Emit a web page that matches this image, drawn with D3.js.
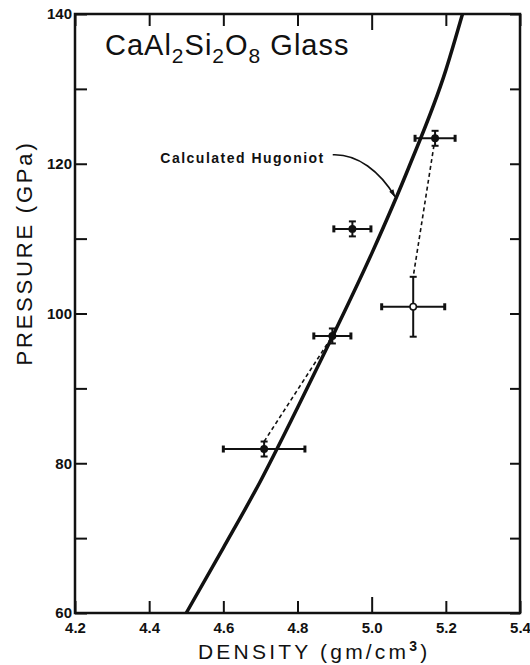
<!DOCTYPE html>
<html>
<head>
<meta charset="utf-8">
<script src="https://cdn.jsdelivr.net/npm/d3@7"></script>
<style>
  body { margin: 0; background: #fff; }
  svg { display: block; }
</style>
</head>
<body>
<div id="chart"></div>
<script>
// calculated Hugoniot (density g/cm3, pressure GPa)
var hugDensity = [4.50, 4.60, 4.70, 4.80, 4.90, 5.00, 5.10, 5.20, 5.245];
var hugPressure = [60, 68.7, 77.6, 87.4, 97.5, 108, 119.5, 132.5, 140];

// experimental points with error bars
var expDensity = [4.71, 4.894, 4.948, 5.112, 5.171];
var expPressure = [81.9, 97.0, 111.3, 100.9, 123.4];
var expDensityErr = [0.11, 0.05, 0.05, 0.085, 0.054];
var expPressureErr = [1, 1, 1, 4, 1];

// dashed connections
var dashLow = [[4.71, 82.9], [4.894, 97.0]];
var dashHigh = [[5.171, 123.4], [5.112, 104.9]];

var xTicks = [4.2, 4.4, 4.6, 4.8, 5.0, 5.2, 5.4];
var yTicks = [60, 70, 80, 90, 100, 110, 120, 130, 140];
var yLabels = [60, 80, 100, 120, 140];

(function () {
  var width = 530, height = 665;
  var margin = { left: 75, right: 520, top: 14, bottom: 613 };
  var font = '"Liberation Sans", Arial, sans-serif';

  var x = d3.scaleLinear().domain([4.2, 5.4]).range([margin.left, margin.right]);
  var y = d3.scaleLinear().domain([60, 140]).range([margin.bottom, margin.top]);

  var svg = d3.select('#chart').append('svg')
    .attr('width', width)
    .attr('height', height);

  svg.append('defs').append('marker')
    .attr('id', 'arrow')
    .attr('viewBox', '0 0 10 10')
    .attr('refX', 9).attr('refY', 5)
    .attr('markerWidth', 9).attr('markerHeight', 5)
    .attr('orient', 'auto')
    .append('path')
    .attr('d', 'M0,2 L10,5 L0,8 Z')
    .attr('fill', '#111');

  // axes, ticks pointing inward
  var xb = svg.append('g')
    .attr('transform', 'translate(0,' + margin.bottom + ')')
    .call(d3.axisBottom(x).tickValues(xTicks).tickSize(-12).tickSizeOuter(0)
      .tickPadding(9).tickFormat(d3.format('.1f')));
  var xt = svg.append('g')
    .attr('transform', 'translate(0,' + margin.top + ')')
    .call(d3.axisTop(x).tickValues(xTicks).tickSize(-12).tickSizeOuter(0)
      .tickFormat(''));
  svg.append('g')
    .attr('transform', 'translate(' + margin.left + ',0)')
    .call(d3.axisLeft(y).tickValues(yTicks).tickSize(-12).tickSizeOuter(0)
      .tickPadding(3)
      .tickFormat(function (d) { return yLabels.indexOf(d) >= 0 ? d : ''; }));
  svg.append('g')
    .attr('transform', 'translate(' + margin.right + ',0)')
    .call(d3.axisRight(y).tickValues(yTicks).tickSize(-10).tickSizeOuter(0)
      .tickFormat(''));

  svg.selectAll('.domain').remove();
  svg.selectAll('.tick line').attr('stroke', '#111').attr('stroke-width', 2);
  svg.selectAll('.tick text')
    .attr('font-family', font)
    .attr('font-weight', 'bold')
    .attr('font-size', 15)
    .attr('fill', '#111');
  // 5.0 ticks are drawn longer
  xb.selectAll('.tick line').filter(function (d) { return d === 5.0; }).attr('y2', -16);
  xt.selectAll('.tick line').filter(function (d) { return d === 5.0; }).attr('y2', 16);

  svg.append('rect')
    .attr('x', margin.left).attr('y', margin.top)
    .attr('width', margin.right - margin.left).attr('height', margin.bottom - margin.top)
    .attr('fill', 'none')
    .attr('stroke', '#111')
    .attr('stroke-width', 2.5);

  // Hugoniot curve
  var hug = hugDensity.map(function (d, i) { return [d, hugPressure[i]]; });
  svg.append('path')
    .datum(hug)
    .attr('fill', 'none')
    .attr('stroke', '#111')
    .attr('stroke-width', 3.5)
    .attr('d', d3.line()
      .x(function (d) { return x(d[0]); })
      .y(function (d) { return y(d[1]); })
      .curve(d3.curveMonotoneX));

  // dashed connections
  [dashLow, dashHigh].forEach(function (seg) {
    svg.append('line')
      .attr('x1', x(seg[0][0])).attr('y1', y(seg[0][1]))
      .attr('x2', x(seg[1][0])).attr('y2', y(seg[1][1]))
      .attr('stroke', '#111')
      .attr('stroke-width', 1.6)
      .attr('stroke-dasharray', '4,3');
  });

  // error bars
  var pts = expDensity.map(function (d, i) {
    return { d: d, p: expPressure[i], de: expDensityErr[i], pe: expPressureErr[i], open: i === 3 };
  });
  var g = svg.append('g').attr('stroke', '#111').attr('stroke-width', 2);
  pts.forEach(function (pt) {
    var cx = x(pt.d), cy = y(pt.p);
    var x0 = x(pt.d - pt.de), x1 = x(pt.d + pt.de);
    var y0 = y(pt.p - pt.pe), y1 = y(pt.p + pt.pe);
    g.append('line').attr('x1', x0).attr('x2', x1).attr('y1', cy).attr('y2', cy);
    g.append('line').attr('x1', x0).attr('x2', x0).attr('y1', cy - 3.5).attr('y2', cy + 3.5).attr('stroke-width', 3);
    g.append('line').attr('x1', x1).attr('x2', x1).attr('y1', cy - 3.5).attr('y2', cy + 3.5).attr('stroke-width', 3);
    g.append('line').attr('x1', cx).attr('x2', cx).attr('y1', y0).attr('y2', y1);
    g.append('line').attr('x1', cx - 3.5).attr('x2', cx + 3.5).attr('y1', y0).attr('y2', y0);
    g.append('line').attr('x1', cx - 3.5).attr('x2', cx + 3.5).attr('y1', y1).attr('y2', y1);
    g.append('circle')
      .attr('cx', cx).attr('cy', cy)
      .attr('r', 3.2)
      .attr('fill', pt.open ? '#fff' : '#111')
      .attr('stroke-width', 1.5);
  });

  // annotation
  svg.append('text')
    .attr('x', x(4.43)).attr('y', y(120.1))
    .attr('font-family', font)
    .attr('font-weight', 'bold')
    .attr('font-size', 14)
    .attr('textLength', 163)
    .attr('fill', '#111')
    .text('Calculated Hugoniot');
  var sx = x(4.895), sy = y(121.2), tx = x(5.063), ty = y(115.6);
  svg.append('path')
    .attr('d', 'M' + sx + ',' + sy + ' C' + (sx + 25) + ',' + (sy - 1) + ' ' +
      (tx - 15) + ',' + (ty - 25) + ' ' + tx + ',' + ty)
    .attr('fill', 'none')
    .attr('stroke', '#111')
    .attr('stroke-width', 1.6)
    .attr('marker-end', 'url(#arrow)');

  // title
  var title = svg.append('text')
    .attr('x', 105).attr('y', 55)
    .attr('font-family', font)
    .attr('font-size', 29)
    .attr('letter-spacing', 1)
    .attr('fill', '#111');
  title.append('tspan').text('CaAl');
  title.append('tspan').attr('dy', 8).attr('font-size', 21).text('2');
  title.append('tspan').attr('dy', -8).text('Si');
  title.append('tspan').attr('dy', 8).attr('font-size', 21).text('2');
  title.append('tspan').attr('dy', -8).text('O');
  title.append('tspan').attr('dy', 8).attr('font-size', 21).text('8');
  title.append('tspan').attr('dy', -8).text(' Glass');

  // axis titles
  var xl = svg.append('text')
    .attr('x', 198).attr('y', 659)
    .attr('font-family', font)
    .attr('font-size', 21)
    .attr('letter-spacing', 3.2)
    .attr('fill', '#111');
  xl.append('tspan').text('DENSITY  (gm/cm');
  xl.append('tspan').attr('dy', -8).attr('font-size', 14).attr('font-weight', 'bold').text('3');
  xl.append('tspan').attr('dy', 8).text(')');

  svg.append('text')
    .attr('transform', 'translate(32,253) rotate(-90)')
    .attr('text-anchor', 'middle')
    .attr('font-family', font)
    .attr('font-size', 22)
    .attr('letter-spacing', 2.8)
    .attr('fill', '#111')
    .text('PRESSURE  (GPa)');
})();
</script>
</body>
</html>
